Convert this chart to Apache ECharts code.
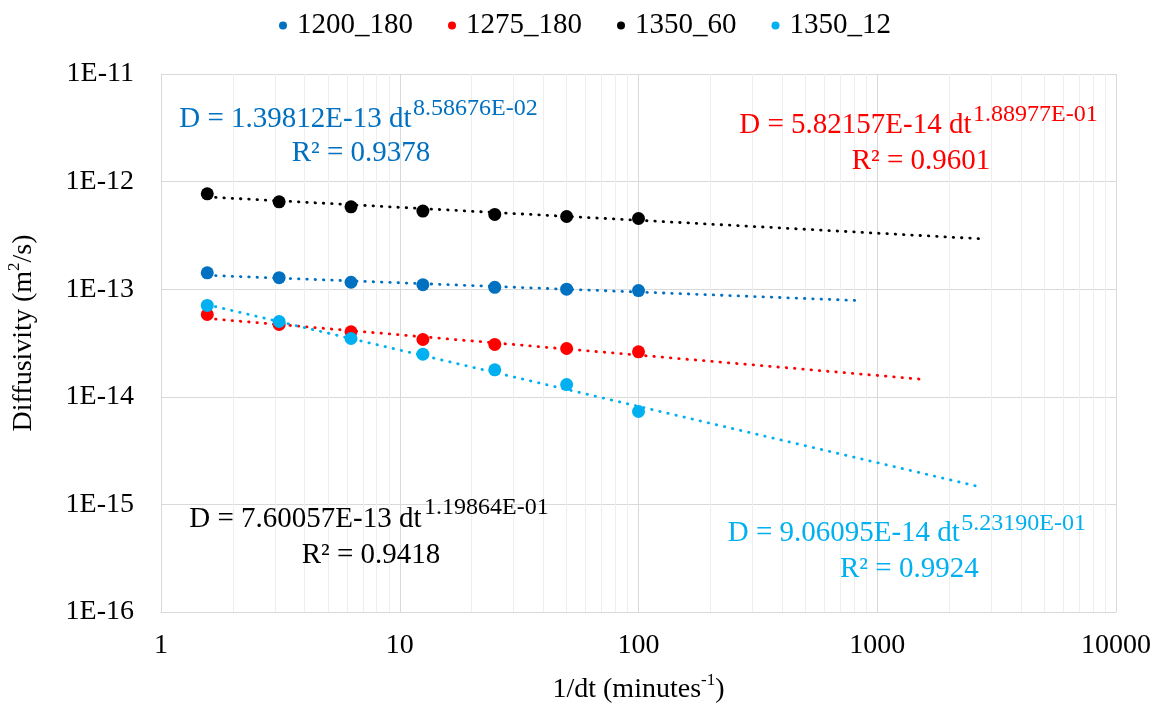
<!DOCTYPE html>
<html>
<head>
<meta charset="utf-8">
<script src="https://cdn.jsdelivr.net/npm/echarts@6/dist/echarts.min.js"></script>
<style>html,body{margin:0;padding:0;background:#fff}#c{width:1162px;height:706px}</style>
</head>
<body>
<div id="c"></div>
<script>
// ---- data ----
const seriesNames = ['1200_180', '1275_180', '1350_60', '1350_12'];
const seriesColors = ['#0070C0', '#FF0000', '#000000', '#00B0F0'];
const xValues = [1.5625, 3.125, 6.25, 12.5, 25, 50, 100];
const d1200_180 = [1.42e-13, 1.28e-13, 1.16e-13, 1.10e-13, 1.04e-13, 1.00e-13, 0.97e-13];
const d1275_180 = [5.82e-14, 4.70e-14, 4.02e-14, 3.41e-14, 3.07e-14, 2.81e-14, 2.62e-14];
const d1350_60  = [7.70e-13, 6.49e-13, 5.83e-13, 5.32e-13, 4.95e-13, 4.74e-13, 4.54e-13];
const d1350_12  = [7.06e-14, 5.01e-14, 3.48e-14, 2.49e-14, 1.78e-14, 1.30e-14, 7.30e-15];
// trendline end points (start x, start y, end x, end y)
const trendStartX = [1.5625, 1.5625, 1.5625, 1.5625];
const trendStartY = [1.3455e-13, 5.351e-14, 7.20e-13, 7.175e-14];
const trendEndX   = [839, 1506, 2729, 2729];
const trendEndY   = [7.84e-14, 1.461e-14, 2.94e-13, 1.444e-15];
// equation labels
const eqMain = ['D = 1.39812E-13 dt', 'D = 5.82157E-14 dt', 'D = 7.60057E-13 dt', 'D = 9.06095E-14 dt'];
const eqExp  = ['8.58676E-02', '1.88977E-01', '1.19864E-01', '5.23190E-01'];
const eqR2   = ['R\u00B2 = 0.9378', 'R\u00B2 = 0.9601', 'R\u00B2 = 0.9418', 'R\u00B2 = 0.9924'];
const xTicks = [1, 10, 100, 1000, 10000];
const yTicks = [1e-16, 1e-15, 1e-14, 1e-13, 1e-12, 1e-11];
const minorMantissa = [2, 3, 4, 5, 6, 7, 8, 9];

const seriesData = [d1200_180, d1275_180, d1350_60, d1350_12];
const FONT = "'Liberation Serif', 'Times New Roman', serif";

// layout for equation text (left x, baselines)
const eqPos = [
  {mx: 179.3, mb: 129.0, ex: 413.0, eb: 116.7, rx: 291.7, rb: 163.3},
  {mx: 739.3, mb: 135.0, ex: 973.0, eb: 123.3, rx: 851.7, rb: 171.0},
  {mx: 189.3, mb: 529.0, ex: 424.0, eb: 516.0, rx: 301.7, rb: 565.0},
  {mx: 727.7, mb: 542.7, ex: 961.3, eb: 531.7, rx: 840.0, rb: 579.3}
];
const MAIN_FS = 29, EXP_FS = 24;
const mid = (base, fs) => base - 0.3375 * fs;

const graphics = [];
for (let i = 0; i < 4; i++) {
  const p = eqPos[i], col = seriesColors[i];
  graphics.push({type: 'text', z: 100, style: {text: eqMain[i], x: p.mx, y: mid(p.mb, MAIN_FS), align: 'left', verticalAlign: 'middle', font: MAIN_FS + 'px ' + FONT, fill: col}});
  graphics.push({type: 'text', z: 100, style: {text: eqExp[i], x: p.ex, y: mid(p.eb, EXP_FS), align: 'left', verticalAlign: 'middle', font: EXP_FS + 'px ' + FONT, fill: col}});
  graphics.push({type: 'text', z: 100, style: {text: eqR2[i], x: p.rx, y: mid(p.rb, MAIN_FS), align: 'left', verticalAlign: 'middle', font: MAIN_FS + 'px ' + FONT, fill: col}});
}

// minor gridlines
const minorLines = [];
for (let k = 0; k < xTicks.length - 1; k++) {
  minorMantissa.forEach(m => minorLines.push({xAxis: m * xTicks[k]}));
}
for (let k = 0; k < yTicks.length - 1; k++) {
  minorMantissa.forEach(m => minorLines.push({yAxis: m * yTicks[k]}));
}

const series = [{
  name: '_minor', type: 'line', data: [], symbol: 'none', silent: true, z: 0,
  markLine: {silent: true, symbol: 'none', z: 0, animation: false,
    label: {show: false}, emphasis: {disabled: true},
    lineStyle: {color: '#eeeeee', type: 'solid', width: 1}, data: minorLines}
}];
for (let i = 0; i < 4; i++) {
  series.push({
    name: seriesNames[i] + ' trend', type: 'line', symbol: 'none', silent: true, z: 3,
    data: [[trendStartX[i], trendStartY[i]], [trendEndX[i], trendEndY[i]]],
    lineStyle: {color: seriesColors[i], width: 2.8, type: [0.5, 7.8], cap: 'round'}
  });
}
for (let i = 0; i < 4; i++) {
  series.push({
    name: seriesNames[i], type: 'scatter', symbol: 'circle', symbolSize: 13, z: 4,
    itemStyle: {color: seriesColors[i], opacity: 1},
    data: xValues.map((x, j) => [x, seriesData[i][j]])
  });
}

const chart = echarts.init(document.getElementById('c'), null, {renderer: 'canvas'});
chart.setOption({
  animation: false,
  backgroundColor: '#ffffff',
  textStyle: {fontFamily: FONT},
  legend: {
    data: seriesNames, left: 274, top: 6, icon: 'circle', itemWidth: 8, itemHeight: 8, itemGap: 35,
    textStyle: {fontSize: 29, color: '#000', fontFamily: FONT, padding: [0, 0, 0, 5]},
    selectedMode: false
  },
  grid: {left: 161, right: 46, top: 74, bottom: 94, containLabel: false, outerBoundsMode: 'none'},
  xAxis: {
    type: 'log', logBase: 10, min: 1, max: 10000,
    name: '{n|1/dt (minutes}{s|-1}{n|)}', nameLocation: 'middle', nameGap: 60,
    nameTextStyle: {rich: {
      n: {fontSize: 28, fontFamily: FONT, color: '#000', lineHeight: 32, verticalAlign: 'bottom'},
      s: {fontSize: 17, fontFamily: FONT, color: '#000', lineHeight: 20, verticalAlign: 'top'}}},
    axisLine: {show: true, lineStyle: {color: '#d9d9d9', width: 1}},
    axisTick: {show: false},
    axisLabel: {fontSize: 28, color: '#000', fontFamily: FONT, margin: 20,
      formatter: v => String(Math.round(v))},
    splitLine: {show: true, lineStyle: {color: '#d9d9d9', width: 1}}
  },
  yAxis: {
    type: 'log', logBase: 10, min: 1e-16, max: 1e-11,
    name: '{n|Diffusivity (m}{s|2}{n|/s)}', nameLocation: 'middle', nameGap: 123, nameRotate: 90,
    nameTextStyle: {padding: [0, 0, 0, 20], rich: {
      n: {fontSize: 28, fontFamily: FONT, color: '#000', lineHeight: 32, verticalAlign: 'bottom'},
      s: {fontSize: 17, fontFamily: FONT, color: '#000', lineHeight: 20, verticalAlign: 'top'}}},
    axisLine: {show: true, lineStyle: {color: '#d9d9d9', width: 1}},
    axisTick: {show: false},
    axisLabel: {fontSize: 28, color: '#000', fontFamily: FONT, margin: 27,
      formatter: v => '1E' + Math.round(Math.log10(v))},
    splitLine: {show: true, lineStyle: {color: '#d9d9d9', width: 1}}
  },
  graphic: graphics,
  series: series
});
</script>
</body>
</html>
